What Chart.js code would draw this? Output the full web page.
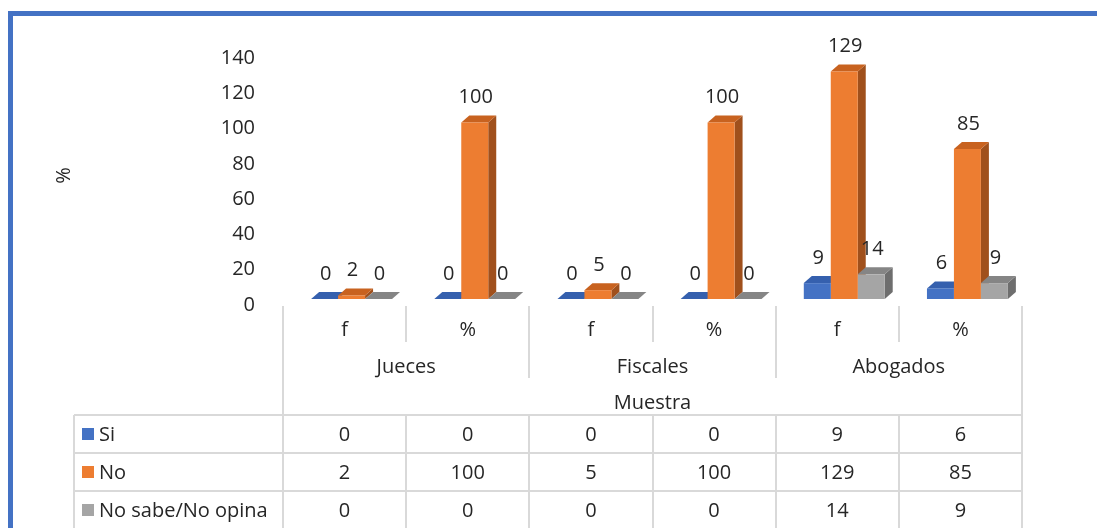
<!DOCTYPE html>
<html>
<head>
<meta charset="utf-8">
<script src="https://cdn.jsdelivr.net/npm/chart.js@4.4.1/dist/chart.umd.min.js"></script>
<style>
    body { margin: 0; background: #fff; font-family: "Open Sans", sans-serif; color: #262626; }
    #wrap { position: relative; width: 1097px; height: 528px; overflow: hidden; background: #fff; }
    #frame { position: absolute; left: 8px; top: 11px; width: 1200px; height: 600px;
             border-top: 5px solid #4472C4; border-left: 5px solid #4472C4; }
    #chart { position: absolute; left: 0; top: 0; }
    .ln { position: absolute; background: #D9D9D9; }
    .txt { position: absolute; font-size: 20px; line-height: 26px; height: 26px; text-align: center; white-space: nowrap; }
    .key { position: absolute; width: 12px; height: 12px; }
</style>
</head>
<body>
<div id="wrap">
    <div id="frame"></div>
    <canvas id="chart" width="1097" height="339"></canvas>
    <div id="axis"></div>
</div>
<script>
var categories = ['f', '%', 'f', '%', 'f', '%'];
var groups = ['Jueces', 'Fiscales', 'Abogados'];
var axisTitle = 'Muestra';
var seriesNames = ['Si', 'No', 'No sabe/No opina'];
var siValues = [0, 0, 0, 0, 9, 6];
var noValues = [2, 100, 5, 100, 129, 85];
var nsValues = [0, 0, 0, 0, 14, 9];
var yTicks = [0, 20, 40, 60, 80, 100, 120, 140];

var colors = ['#4472C4', '#ED7D31', '#A5A5A5'];
var topColors = ['#3560AE', '#C8621F', '#858585'];
var sideColors = ['#2F5597', '#A0501C', '#6E6E6E'];
var allValues = [siValues, noValues, nsValues];

// 3D look: depth offset of the bar top and side
var dx = 8, dy = 7;

var bars3d = {
    id: 'bars3d',
    beforeDatasetsDraw: function(chart) {
        var ctx = chart.ctx;
        chart.data.datasets.forEach(function(ds, i) {
            chart.getDatasetMeta(i).data.forEach(function(bar) {
                var x0 = bar.x - bar.width / 2, x1 = bar.x + bar.width / 2;
                var top = bar.y, base = bar.base;
                ctx.save();
                ctx.fillStyle = sideColors[i];
                ctx.beginPath();
                ctx.moveTo(x1, top);
                ctx.lineTo(x1 + dx, top - dy);
                ctx.lineTo(x1 + dx, base - dy);
                ctx.lineTo(x1, base);
                ctx.closePath();
                ctx.fill();
                ctx.fillStyle = topColors[i];
                ctx.beginPath();
                ctx.moveTo(x0, top);
                ctx.lineTo(x0 + dx, top - dy);
                ctx.lineTo(x1 + dx, top - dy);
                ctx.lineTo(x1, top);
                ctx.closePath();
                ctx.fill();
                ctx.restore();
            });
        });
    },
    afterDatasetsDraw: function(chart) {
        var ctx = chart.ctx;
        ctx.save();
        ctx.font = '20px "Open Sans"';
        ctx.fillStyle = '#262626';
        ctx.textAlign = 'center';
        ctx.textBaseline = 'middle';
        chart.data.datasets.forEach(function(ds, i) {
            chart.getDatasetMeta(i).data.forEach(function(bar, j) {
                ctx.fillText(String(ds.data[j]), bar.x + 1, bar.y - 25);
            });
        });
        ctx.restore();
    }
};

new Chart(document.getElementById('chart'), {
    type: 'bar',
    data: {
        labels: categories,
        datasets: seriesNames.map(function(name, i) {
            return {
                label: name,
                data: allValues[i],
                backgroundColor: colors[i],
                borderWidth: 0,
                categoryPercentage: 0.657,
                barPercentage: 1.0
            };
        })
    },
    options: {
        responsive: false,
        animation: false,
        layout: { padding: { left: 0, right: 68, top: 52, bottom: 40 } },
        plugins: { legend: { display: false }, tooltip: { enabled: false } },
        scales: {
            x: { display: false },
            y: {
                min: 0,
                max: 140,
                afterBuildTicks: function(scale) {
                    scale.ticks = yTicks.map(function(v) { return { value: v }; });
                },
                afterFit: function(scale) { scale.width = 290; },
                grid: { display: false },
                border: { display: false },
                ticks: { padding: 27, labelOffset: 6, color: '#262626', font: { family: 'Open Sans', size: 20 } },
                title: { display: true, text: '%', color: '#262626', padding: { top: 52 }, font: { family: 'Open Sans', size: 20 } }
            }
        }
    },
    plugins: [bars3d]
});

// category axis and data table below the plot
var axis = document.getElementById('axis');
var left = 283, right = 1022, colW = (right - left) / categories.length;
var tableLeft = 74, rowTop = [415, 453, 491], rowH = 38;

function line(x, y, w, h) {
    var d = document.createElement('div');
    d.className = 'ln';
    d.style.left = x + 'px'; d.style.top = y + 'px';
    d.style.width = w + 'px'; d.style.height = h + 'px';
    axis.appendChild(d);
}
function text(s, cx, cy, w, align) {
    var d = document.createElement('div');
    d.className = 'txt';
    d.textContent = s;
    d.style.width = w + 'px';
    d.style.top = (cy - 13) + 'px';
    if (align === 'left') { d.style.left = cx + 'px'; d.style.textAlign = 'left'; }
    else d.style.left = (cx - w / 2) + 'px';
    axis.appendChild(d);
}

for (var k = 0; k <= categories.length; k++) {
    var x = Math.round(left + k * colW) - 1;
    var bottom = (k === 0 || k === categories.length) ? 415 : (k % 2 === 0 ? 378 : 342);
    line(x, 306, 2, bottom - 306);
    line(x, 415, 2, 113);
}
line(tableLeft - 1, 415, 2, 113);
rowTop.forEach(function(y) { line(tableLeft, y - 1, right - tableLeft + 1, 2); });

categories.forEach(function(c, i) { text(c, left + (i + 0.5) * colW, 329, colW, 'center'); });
groups.forEach(function(g, i) { text(g, left + (i * 2 + 1) * colW, 366, colW * 2, 'center'); });
text(axisTitle, (left + right) / 2, 402, 300, 'center');

seriesNames.forEach(function(name, r) {
    var cy = rowTop[r] + rowH / 2;
    var key = document.createElement('div');
    key.className = 'key';
    key.style.background = colors[r];
    key.style.left = '82px';
    key.style.top = (cy - 6) + 'px';
    axis.appendChild(key);
    text(name, 99, cy, 180, 'left');
    allValues[r].forEach(function(v, i) { text(String(v), left + (i + 0.5) * colW, cy, colW, 'center'); });
});
</script>
</body>
</html>
